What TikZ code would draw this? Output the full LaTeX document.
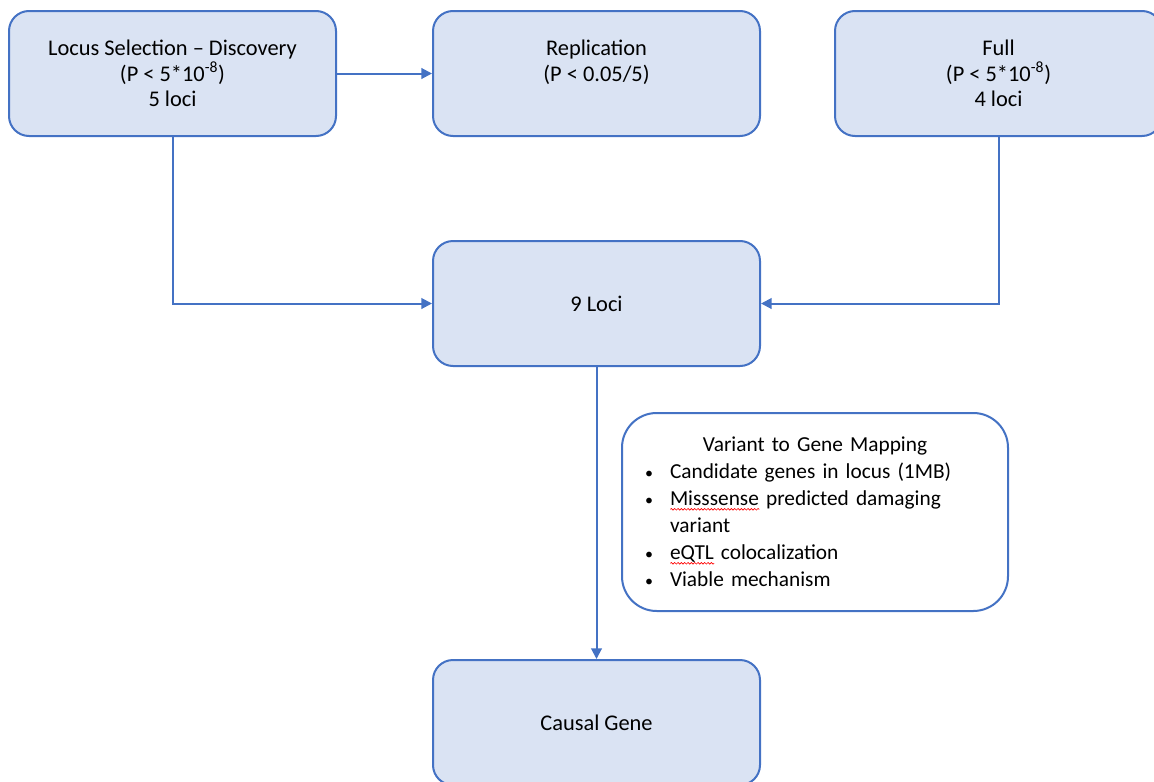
\documentclass[tikz,border=0pt]{standalone}
\usepackage{fontspec}
\setmainfont{Carlito}
\usetikzlibrary{arrows.meta,decorations.pathmorphing}
\definecolor{boxfill}{HTML}{DAE3F3}
\definecolor{boxline}{HTML}{4472C4}
\newsavebox\wavebox
\newlength\wavewd
\newcommand\spellwave[1]{\sbox\wavebox{#1}\setlength\wavewd{\wd\wavebox}\rlap{\raisebox{-3.5pt}{\tikz[sharp corners,x=1pt,y=1pt]\draw[red,line width=0.5pt,decorate,decoration={snake,amplitude=0.6pt,segment length=2.5pt}] (0pt,0pt) -- (\wavewd,0pt);}}\usebox\wavebox}
\newcommand\mapitem[1]{\makebox[20.25pt][l]{\hspace*{1.5pt}\fontsize{12}{12}\selectfont\textbullet}#1\par}

\begin{document}
\begin{tikzpicture}[x=0.75pt,y=0.75pt,yscale=-1,xscale=1,
	stagebox/.style={draw=boxline,fill=boxfill,line width=1.5pt,rounded corners=15pt,minimum width=245.25pt,minimum height=93.75pt,align=center,font=\fontsize{16.8}{19}\selectfont},
	mapbox/.style={draw=boxline,fill=white,line width=1.5pt,rounded corners=26pt,minimum width=289.5pt,minimum height=148.5pt,inner sep=0pt,text width=258pt,font=\fontsize{16}{20.25}\selectfont},
	flow/.style={draw=boxline,line width=1.5pt,-{Triangle[length=8pt,width=8pt]}}]
			\useasboundingbox (0,0) rectangle (1154,782);
			
			\node[stagebox] (locus) at (172.5,73.5) {Locus Selection -- Discovery\\(P < 5*10\textsuperscript{-8})\\5 loci};
			\node[stagebox] (replication) at (596.5,73.5) {Replication\\(P < 0.05/5)\\\phantom{5 loci}};
			\node[stagebox] (full) at (998.5,73.5) {Full\\(P < 5*10\textsuperscript{-8})\\4 loci};
			\node[stagebox] (loci) at (596.5,303.5) {9 Loci};
			\node[stagebox] (causal) at (596.5,722.5) {Causal Gene};
			\node[mapbox] (mapping) at (815,512) {\centering Variant to Gene Mapping\par
				\raggedright
				\mapitem{Candidate genes in locus (1MB)}
				\mapitem{\spellwave{Misssense} predicted damaging}
				\hspace*{20.25pt}variant\par
				\mapitem{\spellwave{eQTL} colocalization}
				\mapitem{Viable mechanism}};
			
			\draw[flow] (locus.east) -- (replication.west);
			\draw[flow] (locus.south) |- (loci.west);
			\draw[flow] (full.south) |- (loci.east);
			\draw[flow] (loci.south) -- (causal.north);
\end{tikzpicture}
\end{document}
